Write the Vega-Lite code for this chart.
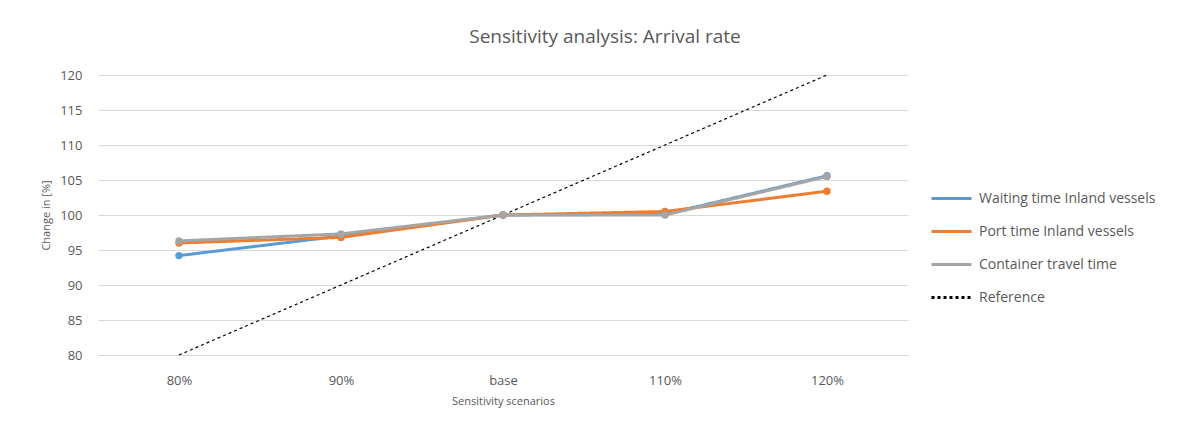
{
  "$schema": "https://vega.github.io/schema/vega-lite/v6.json",
  "autosize": "none",
  "width": 810,
  "height": 280,
  "padding": {"left": 98, "top": 75, "right": 294, "bottom": 73},
  "background": "white",
  "title": {
    "text": "Sensitivity analysis: Arrival rate",
    "font": "Open Sans",
    "fontSize": 19,
    "fontWeight": "normal",
    "color": "#595959",
    "anchor": "middle",
    "dx": 102,
    "offset": 22
  },
  "data": {
    "values": [
      {"scenario": "80%", "series": "Waiting time Inland vessels", "value": 94.2},
      {"scenario": "90%", "series": "Waiting time Inland vessels", "value": 97.0},
      {"scenario": "base", "series": "Waiting time Inland vessels", "value": 100.0},
      {"scenario": "110%", "series": "Waiting time Inland vessels", "value": 100.1},
      {"scenario": "120%", "series": "Waiting time Inland vessels", "value": 105.6},
      {"scenario": "80%", "series": "Port time Inland vessels", "value": 96.0},
      {"scenario": "90%", "series": "Port time Inland vessels", "value": 96.8},
      {"scenario": "base", "series": "Port time Inland vessels", "value": 100.0},
      {"scenario": "110%", "series": "Port time Inland vessels", "value": 100.5},
      {"scenario": "120%", "series": "Port time Inland vessels", "value": 103.4},
      {"scenario": "80%", "series": "Container travel time", "value": 96.3},
      {"scenario": "90%", "series": "Container travel time", "value": 97.3},
      {"scenario": "base", "series": "Container travel time", "value": 100.0},
      {"scenario": "110%", "series": "Container travel time", "value": 100.0},
      {"scenario": "120%", "series": "Container travel time", "value": 105.5},
      {"scenario": "80%", "series": "Reference", "value": 80},
      {"scenario": "90%", "series": "Reference", "value": 90},
      {"scenario": "base", "series": "Reference", "value": 100},
      {"scenario": "110%", "series": "Reference", "value": 110},
      {"scenario": "120%", "series": "Reference", "value": 120}
    ]
  },
  "encoding": {
    "x": {
      "field": "scenario",
      "type": "ordinal",
      "sort": ["80%", "90%", "base", "110%", "120%"],
      "scale": {"paddingInner": 0, "paddingOuter": 0.5},
      "axis": {
        "title": "Sensitivity scenarios",
        "labelAngle": 0,
        "labelFont": "Open Sans",
        "labelFontSize": 13,
        "labelColor": "#595959",
        "labelPadding": 19,
        "ticks": false,
        "domainColor": "#d9d9d9",
        "titleFont": "Open Sans",
        "titleFontSize": 11,
        "titleFontWeight": "normal",
        "titleColor": "#595959",
        "titlePadding": 8
      }
    },
    "y": {
      "field": "value",
      "type": "quantitative",
      "scale": {"domain": [80, 120], "nice": false, "zero": false},
      "axis": {
        "title": "Change in [%]",
        "values": [80, 85, 90, 95, 100, 105, 110, 115, 120],
        "labelFont": "Open Sans",
        "labelFontSize": 13,
        "labelColor": "#595959",
        "labelPadding": 16,
        "ticks": false,
        "domain": false,
        "gridColor": "#d9d9d9",
        "titleFont": "Open Sans",
        "titleFontSize": 11,
        "titleFontWeight": "normal",
        "titleColor": "#595959",
        "titlePadding": 8
      }
    },
    "color": {
      "field": "series",
      "type": "nominal",
      "scale": {
        "domain": ["Waiting time Inland vessels", "Port time Inland vessels", "Container travel time", "Reference"],
        "range": ["#5b9bd5", "#ed7d31", "#a5a5a5", "#000000"]
      },
      "legend": {
        "title": null,
        "orient": "none",
        "legendX": 832,
        "legendY": 102,
        "labelFont": "Open Sans",
        "labelFontSize": 14,
        "labelColor": "#595959",
        "labelLimit": 300,
        "symbolType": "stroke",
        "symbolSize": 1600,
        "symbolStrokeWidth": 3,
        "rowPadding": 4,
        "labelOffset": 6
      }
    },
    "strokeDash": {
      "field": "series",
      "type": "nominal",
      "scale": {
        "domain": ["Waiting time Inland vessels", "Port time Inland vessels", "Container travel time", "Reference"],
        "range": [[1, 0], [1, 0], [1, 0], [3, 3]]
      },
      "legend": {
        "title": null,
        "orient": "none",
        "legendX": 832,
        "legendY": 102,
        "labelFont": "Open Sans",
        "labelFontSize": 14,
        "labelColor": "#595959",
        "labelLimit": 300,
        "symbolType": "stroke",
        "symbolSize": 1600,
        "symbolStrokeWidth": 3,
        "rowPadding": 4,
        "labelOffset": 6
      }
    }
  },
  "layer": [
    {
      "transform": [{"filter": "datum.series === 'Reference'"}],
      "mark": {"type": "line", "strokeWidth": 1.2}
    },
    {
      "transform": [{"filter": "datum.series !== 'Reference'"}],
      "mark": {"type": "line", "strokeWidth": 3}
    },
    {
      "transform": [{"filter": "datum.series !== 'Reference'"}],
      "mark": {"type": "circle", "size": 55, "opacity": 1},
      "encoding": {
        "strokeDash": null
      }
    }
  ],
  "config": {
    "view": {"stroke": null}
  }
}
